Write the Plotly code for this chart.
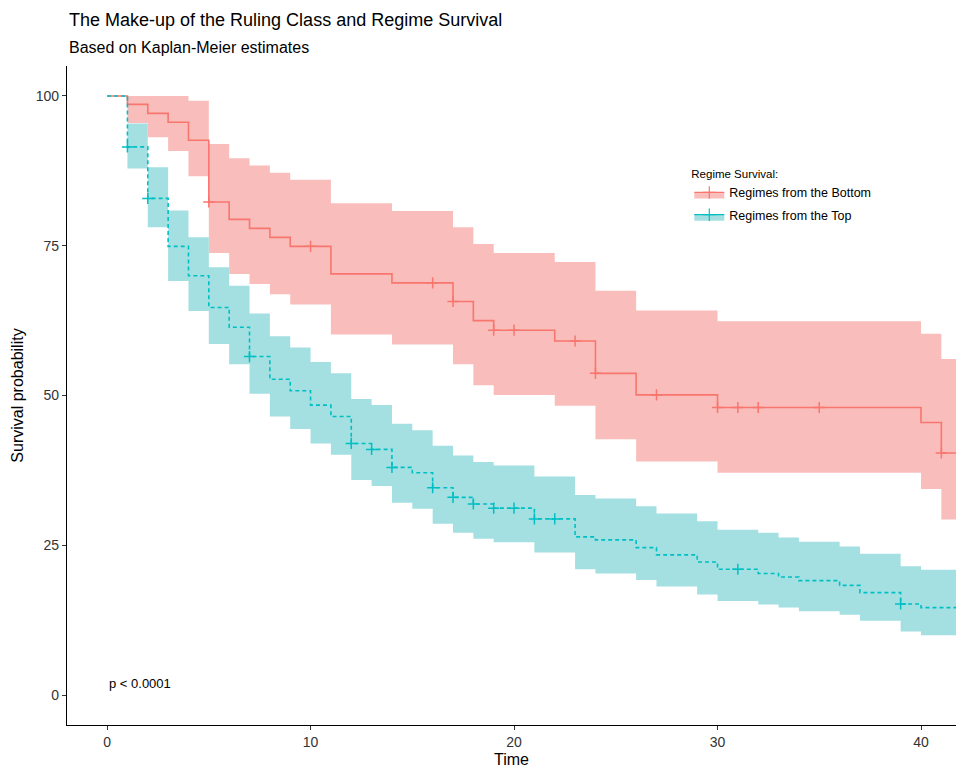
import numpy as np
import plotly.graph_objects as go

# ---------------- data ----------------
series_names = ["Regimes from the Bottom", "Regimes from the Top"]

times_bottom = [0, 1, 2, 3, 4, 5, 6, 7, 8, 9, 11, 14, 17, 18, 19, 22, 24, 26, 30, 40, 41]
surv_bottom = [100, 98.6, 97.1, 95.6, 92.6, 82.3, 79.4, 77.9, 76.4, 74.9, 70.3, 68.8,
               65.7, 62.5, 60.9, 59.1, 53.7, 50.1, 48.0, 45.5, 40.4]
upper_bottom = [100, 100, 100, 100, 99.2, 92.0, 89.6, 88.4, 87.2, 86.0, 82.1, 80.8,
                78.1, 75.3, 73.8, 72.3, 67.5, 64.2, 62.4, 60.3, 56.1]
lower_bottom = [100, 95.5, 93.1, 90.8, 86.6, 73.8, 70.3, 68.6, 66.9, 65.2, 60.2, 58.5,
                55.2, 51.7, 50.1, 48.3, 42.7, 39.0, 37.1, 34.4, 29.3]
censor_bottom = [5, 10, 16, 17, 19, 20, 23, 24, 27, 30, 31, 32, 35, 41]

times_top = [0, 1, 2, 3, 4, 5, 6, 7, 8, 9, 10, 11, 12, 13, 14, 15, 16, 17, 18, 19, 21,
             23, 24, 26, 27, 29, 30, 32, 33, 34, 36, 37, 39, 40]
surv_top = [100, 91.5, 82.9, 74.9, 70.0, 64.7, 61.4, 56.5, 52.7, 50.8, 48.4, 46.5, 42.0,
            41.0, 38.0, 37.1, 34.6, 33.0, 31.9, 31.2, 29.4, 26.4, 25.9, 24.6, 23.4, 22.2,
            21.0, 20.3, 19.7, 19.1, 18.3, 17.1, 15.2, 14.6]
upper_top = [100, 95.4, 88.1, 80.9, 76.4, 71.4, 68.3, 63.7, 59.9, 58.0, 55.6, 53.7, 49.4,
             48.4, 45.3, 44.2, 41.6, 40.0, 38.9, 38.3, 36.5, 33.4, 32.8, 31.5, 30.3, 29.0,
             27.6, 27.1, 26.3, 25.6, 24.8, 23.6, 21.5, 20.9]
lower_top = [100, 87.9, 78.1, 69.1, 64.1, 58.6, 55.2, 50.3, 46.5, 44.4, 42.0, 40.1, 35.9,
             34.9, 32.1, 31.1, 28.6, 27.1, 26.1, 25.5, 23.8, 21.0, 20.3, 19.2, 18.1, 16.8,
             15.7, 15.1, 14.6, 14.0, 13.4, 12.4, 10.6, 10.0]
censor_top = [1, 2, 7, 12, 13, 14, 16, 17, 18, 19, 20, 21, 22, 31, 39]

t_end = 42
x_ticks = [0, 10, 20, 30, 40]
y_ticks = [0, 25, 50, 75, 100]

line_colors = ["#F8766D", "#00BFC4"]
fill_colors = ["#F9BEBC", "#A4E0E1"]
dashes = ["solid", "4px,3px"]

FONT = "Liberation Sans, Arial, sans-serif"


def extend(t, v):
    return list(t) + [t_end], list(v) + [v[-1]]


def step_at(t, v, q):
    idx = np.searchsorted(np.array(t), np.array(q), side="right") - 1
    return [v[i] for i in idx]


groups = [
    (times_bottom, surv_bottom, upper_bottom, lower_bottom, censor_bottom),
    (times_top, surv_top, upper_top, lower_top, censor_top),
]

fig = go.Figure()

# confidence bands
for k, (t, s, u, l, c) in enumerate(groups):
    tx, lx = extend(t, l)
    _, ux = extend(t, u)
    fig.add_trace(go.Scatter(x=tx, y=lx, mode="lines", line=dict(width=0, shape="hv"),
                             hoverinfo="skip", showlegend=False))
    fig.add_trace(go.Scatter(x=tx, y=ux, mode="lines", line=dict(width=0, shape="hv"),
                             fill="tonexty", fillcolor=fill_colors[k],
                             hoverinfo="skip", showlegend=False))

# survival step lines + censor marks
for k, (t, s, u, l, c) in enumerate(groups):
    tx, sx = extend(t, s)
    fig.add_trace(go.Scatter(x=tx, y=sx, mode="lines",
                             line=dict(color=line_colors[k], width=1.6, shape="hv", dash=dashes[k]),
                             showlegend=False))
    fig.add_trace(go.Scatter(x=c, y=step_at(t, s, c), mode="markers",
                             marker=dict(symbol="cross-thin", size=8,
                                         line=dict(color=line_colors[k], width=1.5)),
                             showlegend=False))

# legend entries
for k in range(2):
    fig.add_trace(go.Scatter(x=[None, None, None], y=[None, None, None], mode="lines+markers",
                             name=series_names[k], legendgroup=f"g{k}",
                             fill="toself", fillcolor=fill_colors[k],
                             line=dict(color=line_colors[k], width=1.2),
                             marker=dict(symbol="cross-thin", size=9,
                                         line=dict(color=line_colors[k], width=1.2))))

fig.add_annotation(x=0, y=2, xref="x", yref="y", text="p < 0.0001", showarrow=False,
                   xanchor="left", yanchor="middle",
                   font=dict(size=13, color="black", family=FONT))

# title & subtitle (paper coords: plot area spans y px 66..725)
PLOT_TOP, PLOT_BOTTOM = 66, 725
def paper_y(px):
    return (PLOT_BOTTOM - px) / (PLOT_BOTTOM - PLOT_TOP)

fig.add_annotation(x=0, y=paper_y(20), xref="paper", yref="paper",
                   text="The Make-up of the Ruling Class and Regime Survival",
                   showarrow=False, xanchor="left", yanchor="middle",
                   font=dict(size=18, color="black", family=FONT))
fig.add_annotation(x=0, y=paper_y(47), xref="paper", yref="paper",
                   text="Based on Kaplan-Meier estimates",
                   showarrow=False, xanchor="left", yanchor="middle",
                   font=dict(size=16, color="black", family=FONT))

fig.update_layout(
    width=956, height=768,
    margin=dict(l=67, r=0, t=PLOT_TOP, b=768 - PLOT_BOTTOM),
    paper_bgcolor="white", plot_bgcolor="white",
    font=dict(family=FONT, color="black"),
    xaxis=dict(range=[-1.97, 41.72], tickvals=x_ticks, showgrid=False, zeroline=False,
               showline=True, linecolor="black", linewidth=1.3, ticks="outside",
               ticklen=4, tickcolor="#333", tickfont=dict(size=14, color="#333"),
               title=dict(text="Time", font=dict(size=16), standoff=5)),
    yaxis=dict(range=[-5, 105], tickvals=y_ticks, showgrid=False, zeroline=False,
               showline=True, linecolor="black", linewidth=1.3, ticks="outside",
               ticklen=4, tickcolor="#333", tickfont=dict(size=14, color="#333"),
               title=dict(text="Survival probability", font=dict(size=16), standoff=8)),
    legend=dict(x=0.70, y=0.853, xanchor="left", yanchor="top",
                traceorder="grouped",
                title=dict(text="Regime Survival:", font=dict(size=11.5)),
                font=dict(size=12.5), bgcolor="rgba(0,0,0,0)",
                itemwidth=30, tracegroupgap=3),
)

fig.write_html("out.html")
